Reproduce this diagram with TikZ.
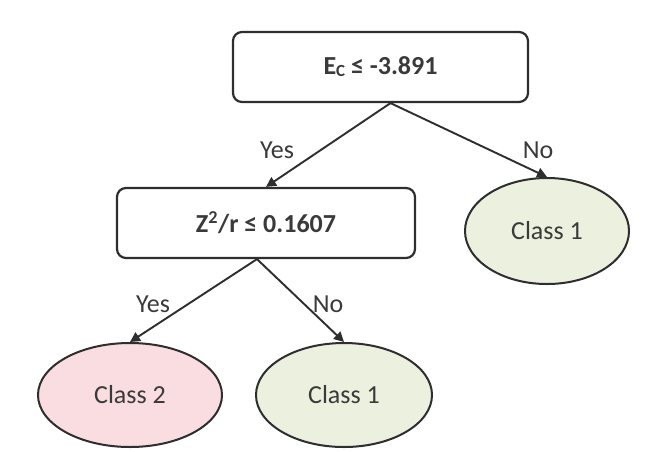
\documentclass[tikz,border=0pt]{standalone}
\usepackage{fontspec}
\setmainfont{Carlito}
\usetikzlibrary{arrows.meta,shapes.geometric}
\definecolor{ink}{HTML}{3A3A3A}
\definecolor{edge}{HTML}{2E2E2E}
\definecolor{leafgreen}{HTML}{EBF1DE}
\definecolor{leafpink}{HTML}{F9DDE0}
\tikzset{
  testbox/.style={draw=edge, line width=2.2pt, rounded corners=9pt, fill=white,
    inner sep=0pt, text=ink, font=\fontsize{26}{28}\selectfont\bfseries},
  leaf/.style={ellipse, draw=edge, line width=2pt, inner sep=0pt, text=ink,
    font=\fontsize{26}{28}\selectfont},
  branch/.style={draw=edge, line width=1.9pt, -{Triangle[length=10pt,width=10pt]}},
  answer/.style={text=ink, font=\fontsize{26}{28}\selectfont}
}
\begin{document}
\begin{tikzpicture}[x=1pt,y=-1pt]
  \useasboundingbox[fill=white] (0,0) rectangle (648,451);

  % decision tests
  \node[testbox, minimum width=295pt, minimum height=70pt] (root) at (380.5,67)
    {\raisebox{3pt}{E\raisebox{-2pt}{\fontsize{17}{18}\selectfont C} ≤ -3.891}};
  \node[testbox, minimum width=298pt, minimum height=70pt] (mid) at (266,223)
    {Z\textsuperscript{2}/r ≤ 0.1607};

  % leaves
  \node[leaf, fill=leafgreen, minimum width=164pt, minimum height=106pt] (right) at (547,231) {Class 1};
  \node[leaf, fill=leafpink, minimum width=184pt, minimum height=104pt] (cls2) at (130,395) {Class 2};
  \node[leaf, fill=leafgreen, minimum width=176pt, minimum height=104pt] (cls1) at (344,395) {Class 1};

  % branches
  \draw[branch] ([xshift=10pt]root.south) -- (mid.north);
  \draw[branch] ([xshift=10pt]root.south) -- (right.north);
  \draw[branch] ([xshift=-9pt]mid.south) -- (cls2.north);
  \draw[branch] ([xshift=-9pt]mid.south) -- (cls1.north);

  % branch answers
  \node[answer] (y1) at (277,150) {Yes};
  \node[answer] (n1) at (538,150) {No};
  \node[answer] (y2) at (153,304) {Yes};
  \node[answer] (n2) at (328,304) {No};
\end{tikzpicture}
\end{document}
